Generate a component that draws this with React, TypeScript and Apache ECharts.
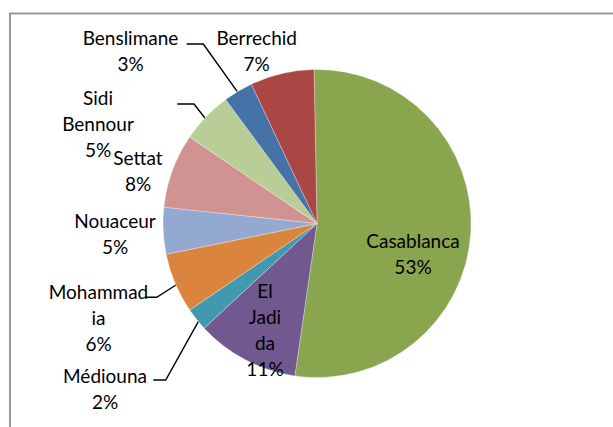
import React, { useEffect, useRef } from "react";
import * as echarts from "echarts";

// ---- data ----
const categories = [
  "Casablanca",
  "El Jadida",
  "Médiouna",
  "Mohammadia",
  "Nouaceur",
  "Settat",
  "Sidi Bennour",
  "Benslimane",
  "Berrechid",
];
const values = [52.6, 10.8, 2.4, 6.3, 4.9, 7.8, 5.4, 3.1, 6.7];
// how the category names are wrapped in the data labels
const wrappedNames = [
  "Casablanca",
  "El\nJadi\nda",
  "Médiouna",
  "Mohammad\nia",
  "Nouaceur",
  "Settat",
  "Sidi\nBennour",
  "Benslimane",
  "Berrechid",
];

// ---- styling / layout (not data) ----
const colors = [
  "#89A54E",
  "#71588F",
  "#4198AF",
  "#DB843D",
  "#93A9CF",
  "#D19392",
  "#B9CD96",
  "#4572A7",
  "#AA4643",
];
const labelCenters: number[][] = [
  [413, 253],
  [265, 329.5],
  [105, 388],
  [98.5, 317.5],
  [115, 233.7],
  [138, 170.3],
  [98, 123.7],
  [130.5, 50.3],
  [256.7, 50.3],
];
const leaderLines: (number[][] | null)[] = [
  null,
  null,
  [[198.3, 321.7], [165.7, 380], [153.3, 380]],
  [[176, 285], [156.7, 297.3], [146, 297.3]],
  null,
  null,
  [[205.7, 119], [194, 104], [177.3, 104]],
  [[237.3, 91.7], [203.3, 44], [186.7, 44]],
  null,
];

export default function App() {
  const ref = useRef<HTMLDivElement>(null);

  useEffect(() => {
    document.body.style.margin = "0";
    document.body.style.overflow = "hidden";
    if (!ref.current) return;
    const chart = echarts.init(ref.current, undefined, { renderer: "svg" });

    const data = categories.map((name, i) => ({
      name,
      value: values[i],
      itemStyle: { color: colors[i] },
      labelLine: { show: leaderLines[i] !== null },
    }));

    chart.setOption({
      animation: false,
      backgroundColor: "#ffffff",
      graphic: [
        {
          type: "polyline",
          silent: true,
          shape: {
            points: [
              [10, 440],
              [10, 13.5],
              [640, 13.5],
            ],
          },
          style: { stroke: "#979797", lineWidth: 2, fill: "none" },
        },
      ],
      series: [
        {
          type: "pie",
          center: [317, 223.5],
          radius: 154,
          startAngle: 91.1,
          clockwise: true,
          avoidLabelOverlap: false,
          itemStyle: { borderColor: "rgba(255,255,255,0.6)", borderWidth: 0.5 },
          label: {
            show: true,
            position: "outside",
            fontFamily: "Lato",
            fontSize: 19,
            lineHeight: 26,
            color: "#000000",
            align: "center",
            formatter: (p: any) =>
              wrappedNames[p.dataIndex] + "\n" + Math.round(p.percent) + "%",
          },
          labelLine: {
            show: true,
            lineStyle: { color: "#000000", width: 1.4 },
          },
          labelLayout: (p: any) => {
            const i = p.dataIndex;
            const res: any = {
              x: labelCenters[i][0],
              y: labelCenters[i][1],
              align: "center",
              verticalAlign: "middle",
            };
            if (leaderLines[i]) res.labelLinePoints = leaderLines[i];
            return res;
          },
          data,
        },
      ],
    });

    return () => {
      chart.dispose();
    };
  }, []);

  return <div ref={ref} style={{ width: 613, height: 427 }} />;
}
